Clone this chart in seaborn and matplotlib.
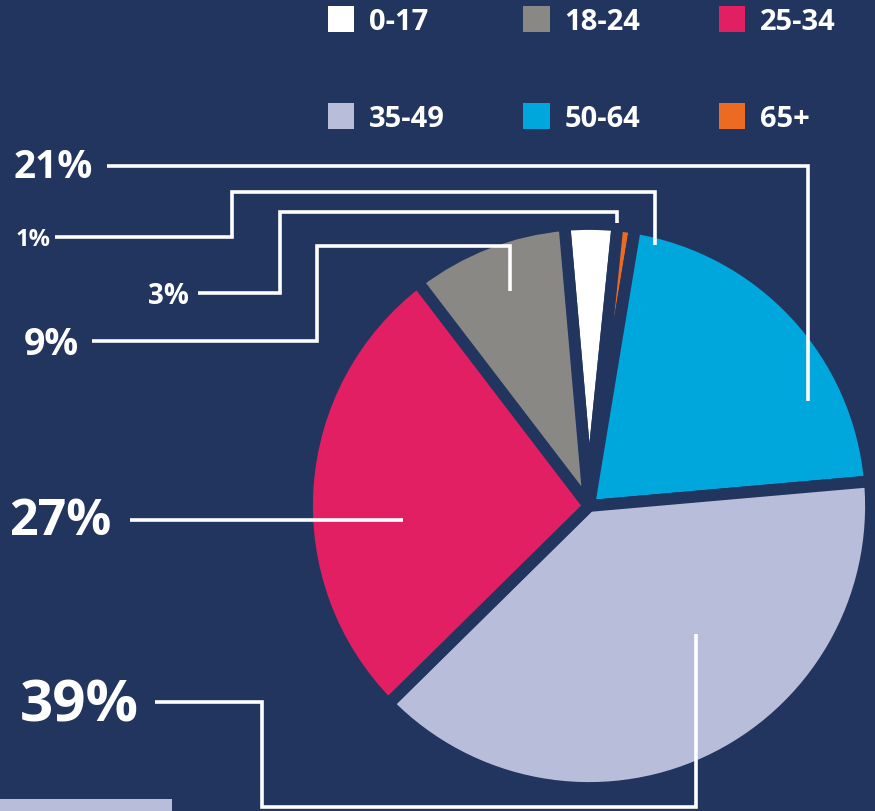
import matplotlib
matplotlib.use("Agg")
import matplotlib.pyplot as plt
import seaborn as sns
from matplotlib.patches import Rectangle

# --- Data (pie order, clockwise from the top) ---
AGE_GROUPS = ["0-17", "65+", "50-64", "35-49", "25-34", "18-24"]
SHARES = [3, 1, 21, 39, 27, 9]
SHARE_LABELS = ["3%", "1%", "21%", "39%", "27%", "9%"]
COLORS = ["#ffffff", "#ec6b23", "#00a7dd", "#b8bdda", "#e31f63", "#8a8884"]
LEGEND_ORDER = ["0-17", "35-49", "18-24", "50-64", "25-34", "65+"]  # row-wise in 3 columns

BG = "#21355f"
W, H = 875, 812

# --- label placement (pixel coords, y down) ---
LABEL_POS = {
    "21%": (14, 167, 28),
    "1%": (16, 240, 17),
    "3%": (148, 297, 20),
    "9%": (24, 345, 27),
    "27%": (9, 522, 36),
    "39%": (20, 707, 42),
}
LEADERS = {
    "21%": [(107, 167), (808, 167), (808, 402)],
    "1%": [(55, 238), (232, 238), (232, 193), (655, 193), (655, 246)],
    "3%": [(198, 294), (280, 294), (280, 213), (617, 213), (617, 224)],
    "9%": [(92, 342), (317, 342), (317, 247), (510, 247), (510, 292)],
    "27%": [(130, 521), (403, 521)],
    "39%": [(155, 703), (262, 703), (262, 808), (696, 808), (696, 635)],
}

sns.set_style("white")
plt.rcParams["font.family"] = ["Open Sans", "DejaVu Sans"]
palette = sns.color_palette(COLORS)

fig = plt.figure(figsize=(W / 100, H / 100), dpi=100, facecolor=BG)
ax = fig.add_axes([0, 0, 1, 1])
ax.set_facecolor(BG)

# y axis is inverted below, so a counter-clockwise pie from -95 deg
# shows up clockwise from 95 deg
wedges, _ = ax.pie(
    SHARES,
    colors=palette,
    startangle=-95,
    counterclock=True,
    center=(589, 507),
    radius=282,
    wedgeprops=dict(edgecolor=BG, linewidth=8.5, joinstyle="round"),
)
ax.set_xlim(0, W)
ax.set_ylim(H, 0)
ax.axis("off")

# leader lines + percentage labels
for lab, pts in LEADERS.items():
    xs, ys = zip(*pts)
    ax.plot(xs, ys, color="white", lw=2.6, solid_joinstyle="miter", solid_capstyle="butt")
for lab, (x, y, size) in LABEL_POS.items():
    ax.text(x, y, lab, color="white", fontsize=size, fontweight="bold",
            ha="left", va="center")

# decorative strip bottom-left
ax.add_patch(Rectangle((0, 800), 172, 14, color="#b8bdda", lw=0))

# legend
handle_of = dict(zip(AGE_GROUPS, wedges))
handles = [Rectangle((0, 0), 1, 1, facecolor=handle_of[g].get_facecolor(), edgecolor="none")
           for g in LEGEND_ORDER]
leg = fig.legend(
    handles, LEGEND_ORDER,
    loc="upper left", bbox_to_anchor=(328 / W, 1 - 7 / H),
    ncol=3, frameon=False, borderpad=0, borderaxespad=0,
    prop=dict(family=["Open Sans", "DejaVu Sans"], weight="bold", size=21),
    labelcolor="white",
    handlelength=0.9, handleheight=1.0, handletextpad=0.5,
    labelspacing=2.3, columnspacing=2.7,
)

fig.savefig("out.png", dpi=100, facecolor=BG)
